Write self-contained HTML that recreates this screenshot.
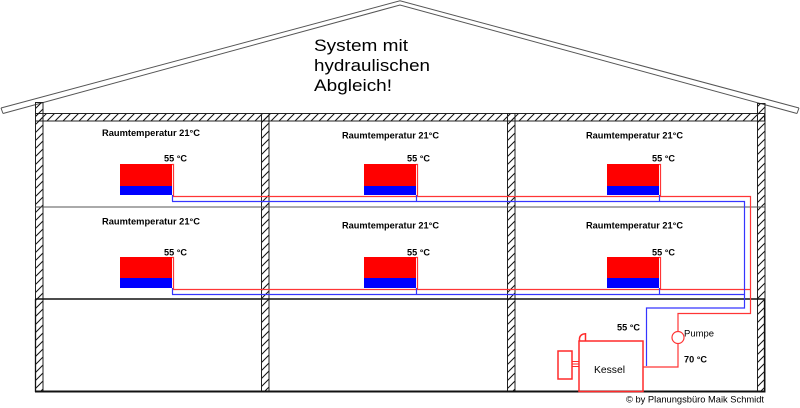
<!DOCTYPE html>
<html><head><meta charset="utf-8"><style>
html,body{margin:0;padding:0;background:#fff;}
svg{display:block;}
text{font-family:"Liberation Sans",Arial,sans-serif;fill:#000;}
.b{font-weight:bold;font-size:9.5px;}
</style></head><body>
<svg width="800" height="408" viewBox="0 0 800 408" xmlns="http://www.w3.org/2000/svg">
<defs>
<pattern id="h" patternUnits="userSpaceOnUse" width="8" height="8">
<line x1="0" y1="8" x2="8" y2="0" stroke="#111" stroke-width="1"/>
<line x1="-1" y1="1" x2="1" y2="-1" stroke="#111" stroke-width="1"/>
<line x1="7" y1="9" x2="9" y2="7" stroke="#111" stroke-width="1"/>
</pattern>
</defs>
<!-- roof -->
<g fill="none" stroke="#555" stroke-width="1">
<path d="M1,108 L400,0.8 L799,108"/>
<path d="M3,113.5 L400,5 L797,113.5"/>
<path d="M1,108 L3,113.5 M799,108 L797,113.5"/>
</g>
<!-- title -->
<text x="314" y="51" font-size="17" textLength="94" lengthAdjust="spacingAndGlyphs">System mit</text>
<text x="314" y="71" font-size="17" textLength="116" lengthAdjust="spacingAndGlyphs">hydraulischen</text>
<text x="314" y="91" font-size="17" textLength="78" lengthAdjust="spacingAndGlyphs">Abgleich!</text>
<!-- ceiling band -->
<rect x="35.5" y="113.5" width="729" height="7.5" fill="url(#h)" stroke="#222" stroke-width="1"/>
<!-- walls -->
<g fill="url(#h)" stroke="#222" stroke-width="1">
<rect x="35.5" y="102.5" width="7.5" height="289.5"/>
<rect x="757.5" y="103.5" width="7.5" height="288.5"/>
<rect x="261.5" y="113.5" width="7.5" height="278.5"/>
<rect x="507.5" y="113.5" width="7.5" height="278.5"/>
</g>
<!-- floor lines -->
<line x1="35" y1="207" x2="765" y2="207" stroke="#555" stroke-width="1"/>
<line x1="35" y1="299" x2="765" y2="299" stroke="#111" stroke-width="1.6"/>
<line x1="35" y1="391.5" x2="765" y2="391.5" stroke="#111" stroke-width="2"/>
<line x1="35.5" y1="299" x2="35.5" y2="392" stroke="#111" stroke-width="1.3"/>
<line x1="764.5" y1="299" x2="764.5" y2="392" stroke="#111" stroke-width="1.3"/>
<!-- radiators -->
<g>
<rect x="120" y="164" width="52" height="22" fill="#f00"/><rect x="120" y="186" width="52" height="9" fill="#00f"/>
<rect x="364" y="164" width="52" height="22" fill="#f00"/><rect x="364" y="186" width="52" height="9" fill="#00f"/>
<rect x="607" y="164" width="52" height="22" fill="#f00"/><rect x="607" y="186" width="52" height="9" fill="#00f"/>
<rect x="120" y="257" width="52" height="21" fill="#f00"/><rect x="120" y="278" width="52" height="10" fill="#00f"/>
<rect x="364" y="257" width="52" height="21" fill="#f00"/><rect x="364" y="278" width="52" height="10" fill="#00f"/>
<rect x="607" y="257" width="52" height="21" fill="#f00"/><rect x="607" y="278" width="52" height="10" fill="#00f"/>
</g>
<!-- pipes red -->
<g fill="none" stroke="#ff3535" stroke-width="1.2">
<path d="M172,164.5 H173.5 V196.5"/>
<path d="M416,164.5 H417.5 V196.5"/>
<path d="M659,164.5 H660.5 V196.5"/>
<path d="M172,257.5 H173.5 V289.5"/>
<path d="M416,257.5 H417.5 V289.5"/>
<path d="M659,257.5 H660.5 V289.5"/>
<path d="M173,196.5 H750.5 V313.5 H678 V331.5"/>
<path d="M173,289.5 H750.5"/>
<circle cx="678" cy="337.5" r="6"/>
<path d="M678,343.5 V367 H643"/>
</g>
<!-- pipes blue -->
<g fill="none" stroke="#3535ff" stroke-width="1.2">
<path d="M172.5,195 V201.5"/>
<path d="M416.5,195 V201.5"/>
<path d="M659.5,195 V201.5"/>
<path d="M172.5,288 V294.5"/>
<path d="M416.5,288 V294.5"/>
<path d="M659.5,288 V294.5"/>
<path d="M172,201.5 H744.5 V308 H646.5 V366"/>
<path d="M172,294.5 H744.5"/>
</g>
<!-- boiler -->
<g fill="none" stroke="#ff2a2a" stroke-width="1.5">
<rect x="579" y="341" width="64" height="50.5"/>
<path d="M579.5,341 V338 Q580.5,334 585.5,333.8 V341"/>
<rect x="558" y="351" width="14" height="28"/>
<path d="M572,361.5 H579 M572,364 H579 M572,366.5 H579" stroke-width="1"/>
</g>
<!-- labels -->
<text class="b" x="102" y="136" textLength="98" lengthAdjust="spacingAndGlyphs">Raumtemperatur 21°C</text>
<text class="b" x="342" y="138.5" textLength="97" lengthAdjust="spacingAndGlyphs">Raumtemperatur 21°C</text>
<text class="b" x="586" y="138.5" textLength="97" lengthAdjust="spacingAndGlyphs">Raumtemperatur 21°C</text>
<text class="b" x="102" y="224.3" textLength="98" lengthAdjust="spacingAndGlyphs">Raumtemperatur 21°C</text>
<text class="b" x="342" y="228.5" textLength="97" lengthAdjust="spacingAndGlyphs">Raumtemperatur 21°C</text>
<text class="b" x="586" y="228.5" textLength="97" lengthAdjust="spacingAndGlyphs">Raumtemperatur 21°C</text>
<text class="b" x="164" y="161.5" textLength="23" lengthAdjust="spacingAndGlyphs">55 °C</text>
<text class="b" x="407" y="161.5" textLength="23" lengthAdjust="spacingAndGlyphs">55 °C</text>
<text class="b" x="652" y="161.5" textLength="23" lengthAdjust="spacingAndGlyphs">55 °C</text>
<text class="b" x="164" y="255.3" textLength="23" lengthAdjust="spacingAndGlyphs">55 °C</text>
<text class="b" x="407" y="255.3" textLength="23" lengthAdjust="spacingAndGlyphs">55 °C</text>
<text class="b" x="652" y="255.3" textLength="23" lengthAdjust="spacingAndGlyphs">55 °C</text>
<text class="b" x="617" y="330.5" textLength="23" lengthAdjust="spacingAndGlyphs">55 °C</text>
<text class="b" x="684" y="362.5" textLength="23" lengthAdjust="spacingAndGlyphs">70 °C</text>
<text x="684" y="336.5" font-size="9.5" textLength="30" lengthAdjust="spacingAndGlyphs">Pumpe</text>
<text x="594" y="372.8" font-size="10.5" textLength="31" lengthAdjust="spacingAndGlyphs">Kessel</text>
<text x="626" y="402.5" font-size="9.3" textLength="138" lengthAdjust="spacingAndGlyphs">© by Planungsbüro Maik Schmidt</text>
</svg>
</body></html>
